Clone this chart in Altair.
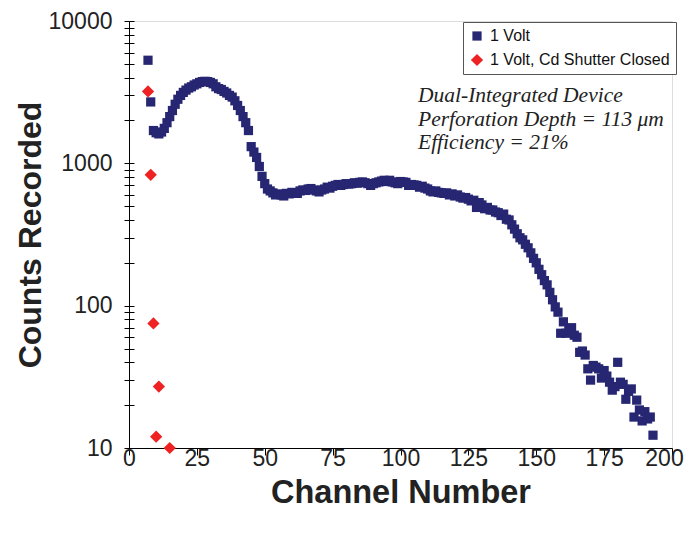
import altair as alt
import pandas as pd

# ---- data ----
channels_1v = list(range(7, 194))
counts_1v = [
    5300, 2700, 1700, 1640, 1610, 1660, 1760, 1930, 2130, 2350,
    2600, 2820, 3000, 3150, 3270, 3380, 3450, 3550, 3620, 3700,
    3750, 3770, 3750, 3700, 3620, 3450, 3350, 3300, 3200, 3120,
    3000, 2920, 2750, 2550, 2350, 2130, 1930, 1700, 1310, 1200,
    1100, 950, 810, 720, 660, 640, 620, 600, 610, 600,
    590, 615, 610, 625, 620, 615, 640, 650, 645, 660,
    665, 650, 640, 630, 650, 660, 680, 670, 690, 700,
    710, 700, 710, 720, 715, 720, 730, 725, 735, 740,
    730, 720, 700, 720, 730, 740, 750, 760, 745, 760,
    740, 730, 720, 745, 740, 735, 700, 710, 705, 700,
    680, 690, 670, 660, 640, 630, 640, 625, 620, 615,
    620, 600, 610, 590, 600, 580, 570, 575, 560, 545,
    550, 490, 530, 510, 480, 490, 470, 470, 455, 450,
    430, 440, 405, 400, 370, 345, 320, 300, 290, 270,
    255, 235, 215, 200, 180, 165, 150, 140, 124, 110,
    98, 90, 64, 77, 64, 68, 70, 62, 60, 47,
    48, 45, 36, 30, 38, 37, 36, 31, 35, 32,
    29, 25.5, 27, 40, 29, 28, 22, 25, 26, 16.5,
    21.7, 18.5, 15.5, 18, 16, 16.5, 12.3,
]
channels_cd = [7, 8, 9, 10, 11, 15]
counts_cd = [3200, 830, 75, 12, 27, 10]

series_names = ["1 Volt", "1 Volt, Cd Shutter Closed"]
series_colors = ["#262672", "#ee2222"]
series_shapes = ["square", "diamond"]
series_sizes = [85, 150]

x_ticks = [0, 25, 50, 75, 100, 125, 150, 175, 200]
y_ticks = [m * d for d in (10, 100, 1000) for m in range(1, 10)] + [10000]

annotation_lines = ["Dual-Integrated Device",
                    "Perforation Depth = 113 \u03bcm",
                    "Efficiency = 21%"]

df_1v = pd.DataFrame({"channel": channels_1v, "counts": counts_1v,
                      "series": series_names[0]})
df_cd = pd.DataFrame({"channel": channels_cd, "counts": counts_cd,
                      "series": series_names[1]})

W, H = 543, 427
SANS = "Liberation Sans"

xscale = alt.Scale(domain=[0, 200], nice=False)
yscale = alt.Scale(type="log", domain=[10, 10000], nice=False)

color = alt.Color("series:N",
                  scale=alt.Scale(domain=series_names, range=series_colors),
                  legend=alt.Legend(title=None, orient="none", legendX=334, legendY=1,
                                    labelFont=SANS, labelFontSize=16, labelColor="#111",
                                    labelLimit=0, symbolSize=64, symbolStrokeWidth=0,
                                    strokeColor="#555", fillColor="white",
                                    padding=6, rowPadding=8, labelOffset=5,
                                    cornerRadius=0))
shape = alt.Shape("series:N", scale=alt.Scale(domain=series_names, range=series_shapes))
size = alt.Size("series:N", scale=alt.Scale(domain=series_names, range=series_sizes),
                legend=None)

main_y_axis = alt.Axis(title="Counts Recorded", values=y_ticks,
                       labelExpr="(datum.value==10||datum.value==100||datum.value==1000||datum.value==10000) ? format(datum.value,'d') : ''",
                       labelFont=SANS, labelFontSize=23, labelColor="#222",
                       labelPadding=12, labelFlush=False, labelOverlap=False,
                       tickSize=5, tickColor="black",
                       domainColor="black", grid=False,
                       titleFont=SANS, titleFontSize=32, titleFontWeight="bold",
                       titleColor="#222", titleAngle=-90, titleX=-99, titleY=H / 2,
                       titleAlign="center", titleBaseline="middle")
inner_y_axis = alt.Axis(title=None, values=y_ticks, labels=False, domain=False,
                        tickSize=5, tickColor="black", grid=False, offset=-5,
                        orient="left")

x_axis = alt.Axis(title="Channel Number", values=x_ticks,
                  labelOffset={"condition": {"test": "datum.value == 200", "value": -8},
                               "value": 0},
                  labelFont=SANS, labelFontSize=23, labelColor="#222",
                  labelBaseline="middle", labelPadding=3, labelFlush=False,
                  labelOverlap=False, tickSize=7,
                  tickColor="black", domainColor="black", grid=False,
                  titleFont=SANS, titleFontSize=32.5, titleFontWeight="bold",
                  titleColor="#222", titleX=W / 2, titleY=44,
                  titleBaseline="middle", titleAlign="center")

blue = alt.Chart(df_1v).mark_point(filled=True, opacity=1, strokeWidth=0).encode(
    x=alt.X("channel:Q", scale=xscale, axis=x_axis),
    y=alt.Y("counts:Q", scale=yscale, axis=main_y_axis),
    color=color, shape=shape, size=size,
)
red = alt.Chart(df_cd).mark_point(filled=True, opacity=1, strokeWidth=0).encode(
    x=alt.X("channel:Q", scale=xscale, axis=x_axis),
    y=alt.Y("counts:Q", scale=yscale, axis=inner_y_axis),
    color=color, shape=shape, size=size,
)

note = alt.Chart(pd.DataFrame({"k": [0]})).mark_text(
    align="left", baseline="top", font="Liberation Serif", fontStyle="italic",
    fontSize=21.5, lineHeight=23.5, color="#222", text=annotation_lines,
).encode(x=alt.value(289), y=alt.value(64))

chart = alt.layer(blue, red, note).resolve_axis(y="independent").properties(
    width=W, height=H,
    autosize=alt.AutoSizeParams(type="none"),
    padding={"left": 121, "top": 13, "right": 13, "bottom": 77},
).configure_view(stroke="#777", strokeWidth=1).configure(background="white")

chart.save("out.html", embed_options={"renderer": "svg", "actions": False})
